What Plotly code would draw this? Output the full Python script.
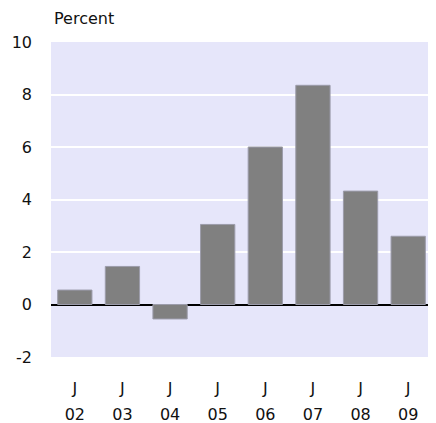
import plotly.graph_objects as go

# yearly values, June of each year
years = ['02', '03', '04', '05', '06', '07', '08', '09']
months = ['J'] * len(years)
values = [0.55, 1.45, -0.55, 3.05, 6.0, 8.35, 4.32, 2.6]
y_ticks = [-2, 0, 2, 4, 6, 8, 10]
y_labels = ['-2', '0', '2', '4', '6', '8', '10']

FONT = dict(family='DejaVu Sans', size=16, color='#111111')

fig = go.Figure()
fig.add_trace(go.Bar(
    x=years,
    y=values,
    marker=dict(color='#808080', line=dict(color='#9c9cab', width=1)),
    width=0.72,
    showlegend=False,
    hoverinfo='skip'
))

# second overlay axis for the year row under the month letters
fig.add_trace(go.Bar(x=years, y=[None] * len(years), xaxis='x2', showlegend=False))

# page body has an 8px margin, so the figure is 8px smaller than the window
fig.update_layout(
    width=428,
    height=415,
    margin=dict(l=43, r=4, t=34, b=66),
    paper_bgcolor='white',
    plot_bgcolor='#E6E6FA',
    font=FONT,
    xaxis=dict(
        tickmode='array',
        tickvals=years,
        ticktext=months,
        range=[-0.5, 7.5],
        showgrid=False,
        zeroline=False,
        showline=False,
        ticks='',
        ticklabelstandoff=20,
        automargin=False,
        fixedrange=True
    ),
    xaxis2=dict(
        overlaying='x',
        matches='x',
        side='bottom',
        tickmode='array',
        tickvals=years,
        ticktext=years,
        showgrid=False,
        zeroline=False,
        showline=False,
        ticks='',
        ticklabelstandoff=46,
        automargin=False
    ),
    yaxis=dict(
        range=[-2, 10],
        tickvals=y_ticks,
        ticktext=y_labels,
        showgrid=True,
        gridcolor='white',
        gridwidth=1.5,
        zeroline=True,
        zerolinecolor='black',
        zerolinewidth=2,
        showline=False,
        ticks='',
        ticklabelstandoff=18,
        automargin=False
    ),
    annotations=[dict(
        text='Percent',
        xref='paper', yref='paper',
        x=0, y=1,
        xanchor='left', yanchor='bottom',
        xshift=1, yshift=12,
        showarrow=False,
        font=FONT
    )]
)

fig.write_html("out.html")
